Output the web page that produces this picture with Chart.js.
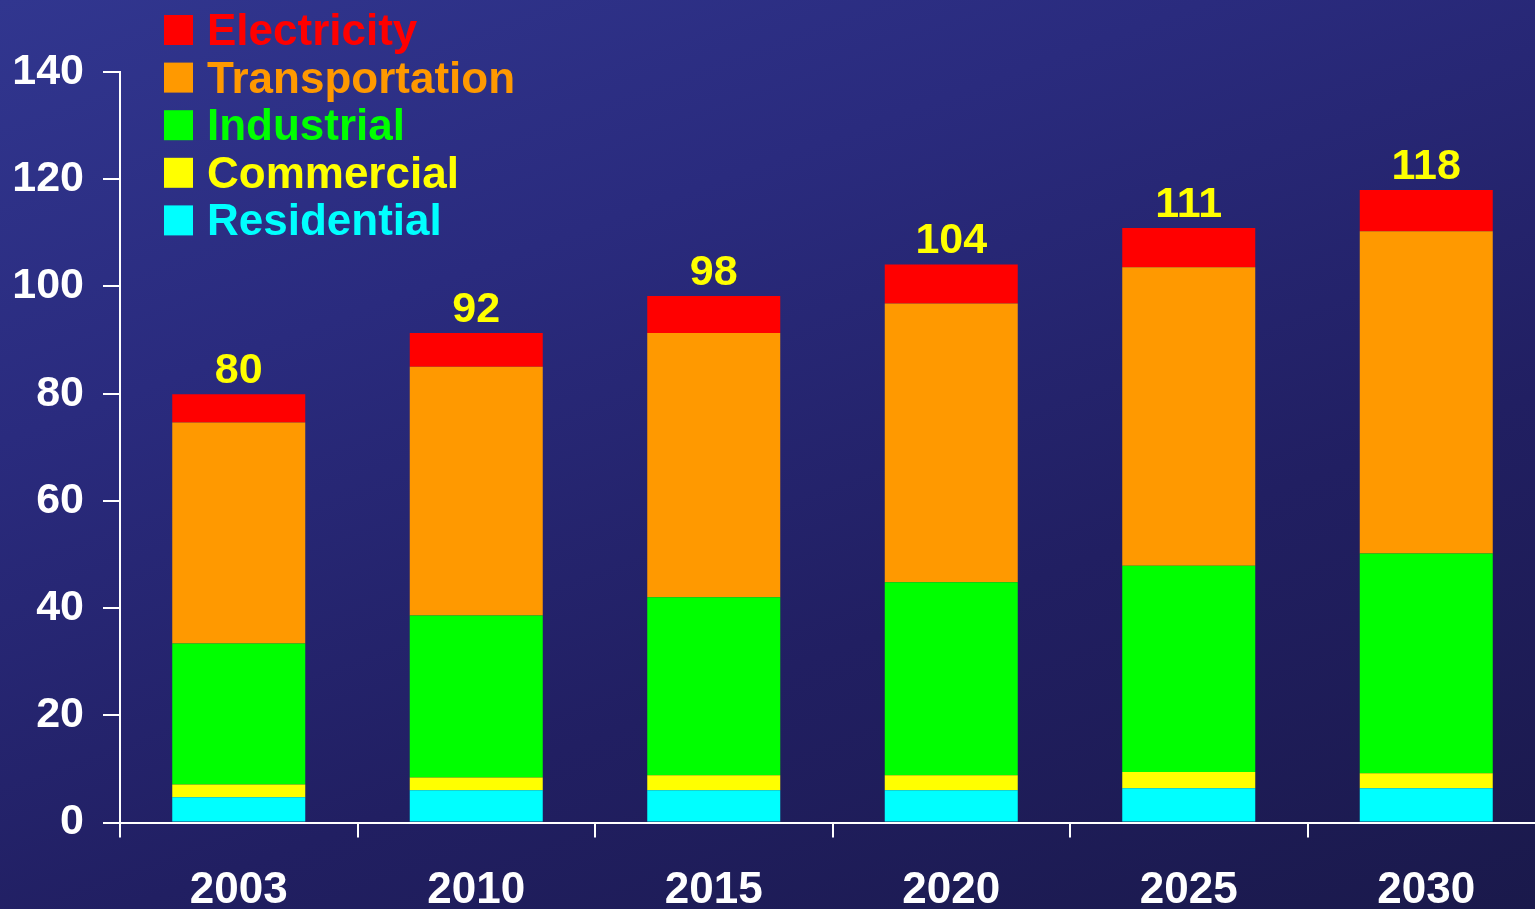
<!DOCTYPE html>
<html>
<head>
<meta charset="utf-8">
<script src="https://cdn.jsdelivr.net/npm/chart.js@4.4.1/dist/chart.umd.min.js"></script>
<style>
  html, body { margin: 0; padding: 0; overflow: hidden; width: 1535px; height: 909px; }
  body { background: linear-gradient(160deg, #31368f 0%, #2a2b7e 30%, #211f62 65%, #1a194b 100%); }
  #wrap { position: absolute; left: 0; top: 0; width: 1546px; height: 909px; }
</style>
</head>
<body>
<div id="wrap"><canvas id="c" width="1546" height="909"></canvas></div>
<script>
const years = ['2003', '2010', '2015', '2020', '2025', '2030'];
const residential    = [4.7, 6.0, 6.0, 6.0, 6.4, 6.4];
const commercial     = [2.4, 2.4, 2.8, 2.8, 3.0, 2.8];
const industrial     = [26.3, 30.2, 33.2, 36.0, 38.5, 41.0];
const transportation = [41.2, 46.4, 49.3, 52.0, 55.7, 60.1];
const electricity    = [5.3, 6.3, 6.9, 7.3, 7.3, 7.7];
const totalLabels    = ['80', '92', '98', '104', '111', '118'];
const yTicks         = [0, 20, 40, 60, 80, 100, 120, 140];

const FONT = '"Liberation Sans", Arial, sans-serif';

const datasets = [
  { label: 'Residential', data: residential, backgroundColor: '#00ffff' },
  { label: 'Commercial', data: commercial, backgroundColor: '#ffff00' },
  { label: 'Industrial', data: industrial, backgroundColor: '#00ff00' },
  { label: 'Transportation', data: transportation, backgroundColor: '#ff9900' },
  { label: 'Electricity', data: electricity, backgroundColor: '#ff0000' }
];

const extras = {
  id: 'extras',
  afterDatasetsDraw(chart) {
    const ctx = chart.ctx;
    const y = chart.scales.y;
    const x = chart.scales.x;
    ctx.save();
    // total labels
    ctx.font = 'bold 43px ' + FONT;
    ctx.fillStyle = '#ffff00';
    ctx.textAlign = 'center';
    ctx.textBaseline = 'alphabetic';
    years.forEach((yr, i) => {
      let sum = 0;
      chart.data.datasets.forEach(ds => sum += ds.data[i]);
      ctx.fillText(totalLabels[i], x.getPixelForValue(i), y.getPixelForValue(sum) - 11);
    });
    // legend (reverse order)
    const items = chart.data.datasets.slice().reverse();
    ctx.textAlign = 'left';
    ctx.font = 'bold 44px ' + FONT;
    items.forEach((ds, k) => {
      const cy = 30 + k * 47.6;
      ctx.fillStyle = ds.backgroundColor;
      ctx.fillRect(164, cy - 15, 29, 30);
      ctx.fillText(ds.label, 207, cy + 15);
    });
    ctx.restore();
  }
};

new Chart(document.getElementById('c'), {
  type: 'bar',
  data: { labels: years, datasets },
  options: {
    responsive: false,
    animation: false,
    events: [],
    layout: { padding: { left: 12, top: 72, right: 1, bottom: 0 } },
    datasets: { bar: { categoryPercentage: 0.8, barPercentage: 0.7, borderWidth: 0 } },
    plugins: { legend: { display: false }, tooltip: { enabled: false } },
    scales: {
      x: {
        stacked: true,
        grid: { display: true, drawOnChartArea: false, drawTicks: true, tickLength: 15, color: '#ffffff', lineWidth: 2, offset: true },
        border: { display: true, color: '#ffffff', width: 2 },
        ticks: { color: '#ffffff', font: { family: FONT, size: 44, weight: 'bold' }, padding: 27, maxRotation: 0 },
        afterFit(s) { s.height = 909 - 822.5; }
      },
      y: {
        stacked: true,
        min: 0, max: 140,
        afterBuildTicks(s) { s.ticks = yTicks.map(v => ({ value: v })); },
        grid: { display: true, drawOnChartArea: false, drawTicks: true, tickLength: 17, color: '#ffffff', lineWidth: 2 },
        border: { display: true, color: '#ffffff', width: 2 },
        ticks: { color: '#ffffff', font: { family: FONT, size: 43, weight: 'bold' }, padding: 19 },
        afterFit(s) { s.width = 108; }
      }
    }
  },
  plugins: [extras]
});
</script>
</body>
</html>
